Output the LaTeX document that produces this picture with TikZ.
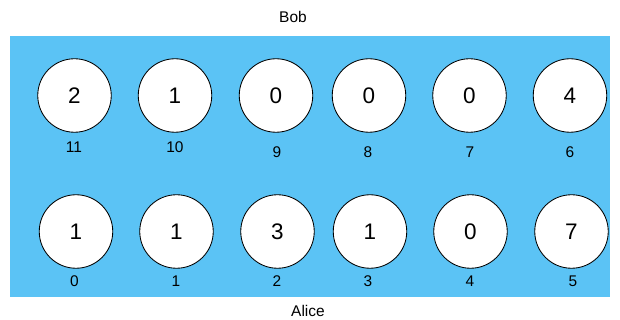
\documentclass[tikz,border=0pt]{standalone}
\usepackage{fontspec}
\setmainfont{Liberation Sans}
\definecolor{boardblue}{RGB}{91,195,245}
\usetikzlibrary{positioning}

\begin{document}
\begin{tikzpicture}[x=0.025cm,y=-0.025cm,
    pit/.style={draw=black,fill=white,circle,line width=0.6pt,minimum size=73.5*0.025cm,inner sep=0pt,font=\fontsize{16}{18}\selectfont},
    idx/.style={font=\fontsize{11}{12}\selectfont},
    player/.style={font=\fontsize{11}{12}\selectfont}]
  \useasboundingbox (0,0) rectangle (620,320);
  % board
  \fill[boardblue] (10,36) rectangle (610,297);
  % Bob's row
  \node[pit] (b11) at (74.5,95.5) {2};
  \node[pit] (b10) at (175,95.5) {1};
  \node[pit] (b9) at (276,95.5) {0};
  \node[pit] (b8) at (369,95.5) {0};
  \node[pit] (b7) at (469.5,95.5) {0};
  \node[pit] (b6) at (570,95.5) {4};
  \node[idx] (l11) at (74,147) {11};
  \node[idx] (l10) at (175,147) {10};
  \node[idx] (l9) at (277,152) {9};
  \node[idx] (l8) at (368,152) {8};
  \node[idx] (l7) at (470,152) {7};
  \node[idx] (l6) at (570,152) {6};
  % Alice's row
  \node[pit] (a0) at (76,231.5) {1};
  \node[pit] (a1) at (176.5,231.5) {1};
  \node[pit] (a2) at (277.5,231.5) {3};
  \node[pit] (a3) at (370,231.5) {1};
  \node[pit] (a4) at (470.5,231.5) {0};
  \node[pit] (a5) at (571.5,231.5) {7};
  \node[idx] (l0) at (74.5,281) {0};
  \node[idx] (l1) at (176,281) {1};
  \node[idx] (l2) at (277,281) {2};
  \node[idx] (l3) at (368,281) {3};
  \node[idx] (l4) at (470,281) {4};
  \node[idx] (l5) at (573,281) {5};
  % players
  \node[player] (bob) at (293,17) {Bob};
  \node[player] (alice) at (308,311) {Alice};
\end{tikzpicture}
\end{document}
